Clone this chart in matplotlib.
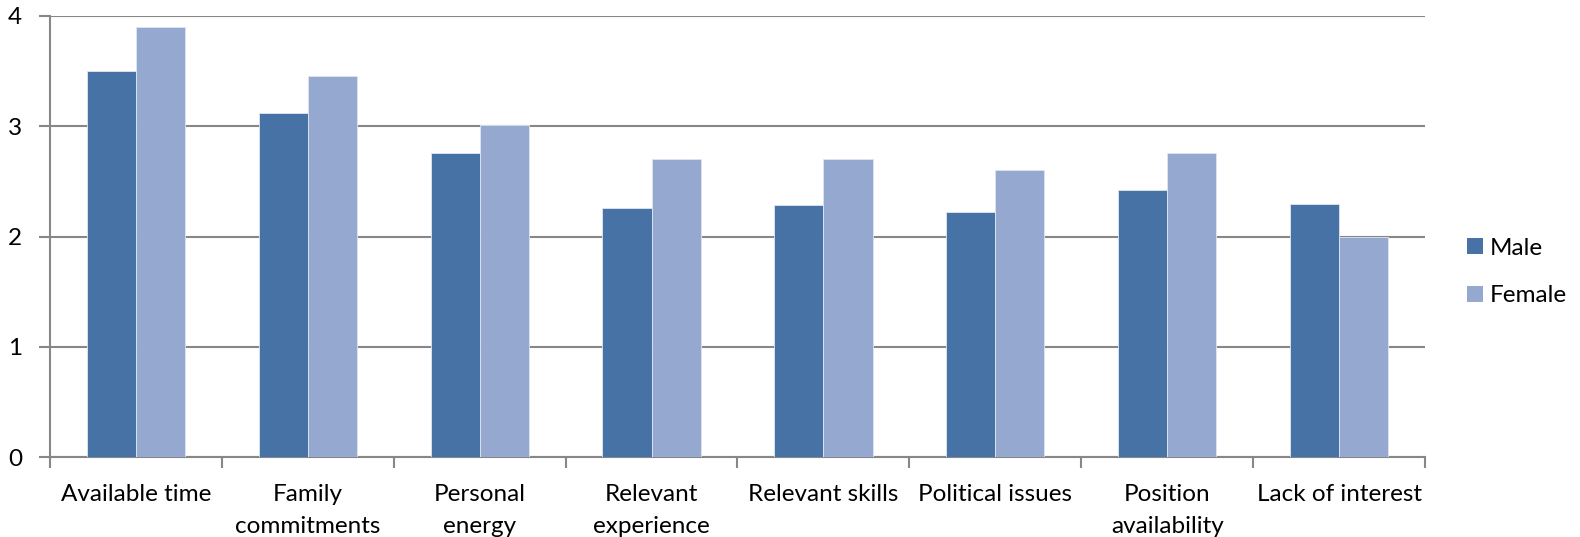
import matplotlib
matplotlib.use("Agg")
import matplotlib.pyplot as plt
import numpy as np
from matplotlib.patches import Patch

categories = ["Available time", "Family\ncommitments", "Personal\nenergy",
              "Relevant\nexperience", "Relevant skills", "Political issues",
              "Position\navailability", "Lack of interest"]
male = [3.50, 3.12, 2.76, 2.26, 2.29, 2.22, 2.42, 2.30]
female = [3.90, 3.46, 3.01, 2.70, 2.70, 2.60, 2.76, 2.00]
series_names = ["Male", "Female"]
y_ticks = [0, 1, 2, 3, 4]

MALE_C = "#4672A6"
FEMALE_C = "#95A9D0"
GRID_C = "#878787"
FS = 17.5

plt.rcParams["font.family"] = ["Lato", "DejaVu Sans"]

fig = plt.figure(figsize=(15.8, 5.37), dpi=100)
ax = fig.add_axes([50 / 1580, 1 - 457.3 / 537, 1375 / 1580, (457.3 - 16) / 537])

x = np.arange(len(categories))
w = 1 / 3.5
ax.bar(x - w / 2, male, width=w, color=MALE_C, edgecolor="#dfe6f0", linewidth=0.6, zorder=3)
ax.bar(x + w / 2, female, width=w, color=FEMALE_C, edgecolor="#dfe6f0", linewidth=0.6, zorder=3)

ax.set_xlim(-0.5, len(categories) - 0.5)
ax.set_ylim(0, 4)
ax.set_yticks(y_ticks)
ax.set_yticklabels([str(t) for t in y_ticks], fontsize=FS)
ax.yaxis.grid(True, color=GRID_C, linewidth=1.5, zorder=0)
ax.set_axisbelow(True)

ax.set_xticks(x)
ax.set_xticklabels(categories, fontsize=FS, linespacing=1.65)
ax.set_xticks(np.arange(len(categories) + 1) - 0.5, minor=True)
ax.tick_params(axis="x", which="major", length=0, pad=19)
ax.tick_params(axis="x", which="minor", length=8, width=1.5, color=GRID_C)
ax.tick_params(axis="y", length=8, width=1.5, color=GRID_C, pad=12)

for side in ["top", "right"]:
    ax.spines[side].set_visible(False)
for side in ["left", "bottom"]:
    ax.spines[side].set_color(GRID_C)
    ax.spines[side].set_linewidth(1.5)

handles = [Patch(facecolor=MALE_C), Patch(facecolor=FEMALE_C)]
fig.legend(handles, series_names, loc="center left", bbox_to_anchor=(1455 / 1580, 1 - 272 / 537),
           frameon=False, fontsize=FS, handlelength=0.65, handleheight=0.65,
           handletextpad=0.3, labelspacing=1.1, borderpad=0)

fig.savefig("out.png", dpi=100)
